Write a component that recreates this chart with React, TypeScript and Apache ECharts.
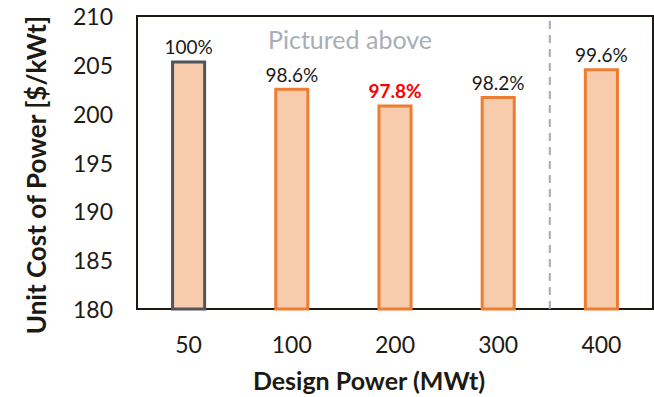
import React, { useEffect, useRef } from "react";
import * as echarts from "echarts";

const categories = ["50", "100", "200", "300", "400"];
const unitCost = [205.45, 202.65, 200.95, 201.8, 204.65];
const pctLabels = ["100%", "98.6%", "97.8%", "98.2%", "99.6%"];
const highlightIndex = 2;
const referenceIndex = 0;
const yTicks = { min: 180, max: 210, interval: 5 };
const dividerPosition = 3.5; // between 300 and 400 MWt
const annotation = "Pictured above";

const FONT = "Lato";
const TEXT = "#1d1a14";

export default function App() {
  const ref = useRef<HTMLDivElement>(null);
  useEffect(() => {
    if (!ref.current) return;
    const chart = echarts.init(ref.current, null, { renderer: "svg" });
    const data = unitCost.map((v, i) => ({
      value: v,
      itemStyle:
        i === referenceIndex
          ? { color: "#F8CBAD", borderColor: "#50555A", borderWidth: 3 }
          : { color: "#F8CBAD", borderColor: "#ED7D31", borderWidth: 3 },
      label:
        i === highlightIndex
          ? { color: "#FF0000", fontWeight: "bold" as const }
          : { color: "#1a1a1a", fontWeight: "normal" as const },
    }));
    chart.setOption({
      animation: false,
      textStyle: { fontFamily: FONT },
      grid: {
        left: 137,
        right: 1,
        top: 16,
        bottom: 84,
        show: true,
        borderColor: TEXT,
        borderWidth: 2,
        containLabel: false,
      },
      xAxis: [
        {
          type: "category",
          data: categories,
          name: "Design Power (MWt)",
          nameLocation: "middle",
          nameGap: 58,
          nameTextStyle: {
            fontFamily: FONT,
            fontSize: 25,
            fontWeight: "bold",
            color: TEXT,
            padding: [0, 52, 0, 0],
          },
          axisLine: { show: true, onZero: false, lineStyle: { color: TEXT, width: 2 } },
          axisTick: { show: false },
          axisLabel: { fontFamily: FONT, fontSize: 23, color: TEXT, margin: 23 },
        },
        {
          type: "value",
          min: -0.5,
          max: categories.length - 0.5,
          show: false,
        },
      ],
      yAxis: {
        type: "value",
        min: yTicks.min,
        max: yTicks.max,
        interval: yTicks.interval,
        name: "Unit Cost of Power [$/kWt]",
        nameLocation: "middle",
        nameGap: 88,
        nameTextStyle: {
          fontFamily: FONT,
          fontSize: 26,
          fontWeight: "bold",
          color: TEXT,
          padding: [0, 25, 0, 0],
        },
        axisLine: { show: true, onZero: false, lineStyle: { color: TEXT, width: 2 } },
        axisTick: { show: false },
        splitLine: { show: false },
        axisLabel: { fontFamily: FONT, fontSize: 23, color: TEXT, margin: 24 },
      },
      series: [
        {
          type: "bar",
          data,
          barWidth: "34%",
          label: {
            show: true,
            position: "top",
            distance: 4,
            fontFamily: FONT,
            fontSize: 19,
            formatter: (p: any) => pctLabels[p.dataIndex],
          },
        },
        {
          type: "line",
          xAxisIndex: 1,
          data: [
            [dividerPosition, yTicks.min],
            [dividerPosition, yTicks.max],
          ],
          symbol: "none",
          silent: true,
          lineStyle: { color: "#A7ABB2", width: 2, type: [8, 6] },
          z: 1,
        },
      ],
      graphic: [
        {
          type: "text",
          left: 268,
          top: 26,
          style: {
            text: annotation,
            fontFamily: FONT,
            fontSize: 25,
            fill: "#A9AEB5",
          },
        },
      ],
    });
    return () => chart.dispose();
  }, []);
  return <div ref={ref} style={{ width: 654, height: 397, position: "absolute", left: 0, top: 0 }} />;
}
